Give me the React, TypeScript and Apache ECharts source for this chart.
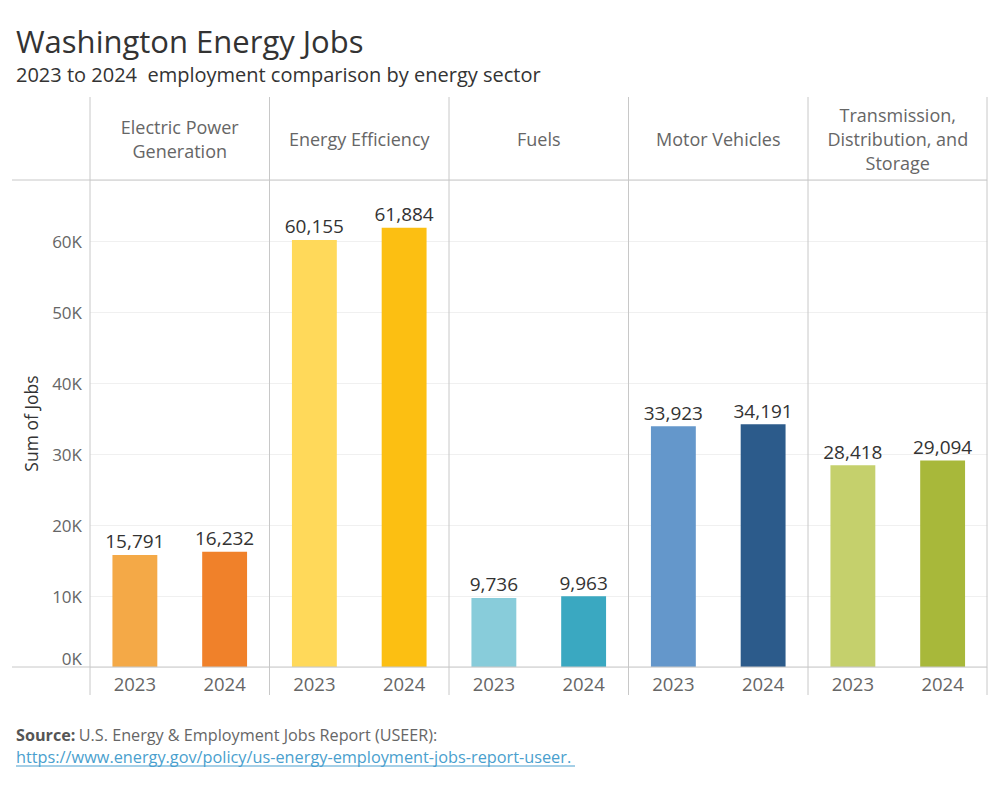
import React, { useEffect, useRef } from "react";
import * as echarts from "echarts";

const sectors = [
  "Electric Power\nGeneration",
  "Energy Efficiency",
  "Fuels",
  "Motor Vehicles",
  "Transmission,\nDistribution, and\nStorage",
];
const years = ["2023", "2024"];
const jobs2023 = [15791, 60155, 9736, 33923, 28418];
const jobs2024 = [16232, 61884, 9963, 34191, 29094];
const yTicks = [0, 10000, 20000, 30000, 40000, 50000, 60000];

const colors2023 = ["#F4A947", "#FFD95A", "#88CCDA", "#6497CB", "#C5D06C"];
const colors2024 = ["#F0812A", "#FCBF12", "#3AA8C1", "#2C5B8B", "#A8B83A"];

const FONT = "'Open Sans', sans-serif";
const LINE = "#c8c8c8";

export default function App() {
  const ref = useRef<HTMLDivElement>(null);
  useEffect(() => {
    if (!ref.current) return;
    const chart = echarts.init(ref.current, null, { renderer: "svg" });
    const panelLefts = [90, 269.5, 449, 628.5, 808];
    const panelW = 179.5;
    const top = 180;
    const bottom = 667;

    const grids = panelLefts.map((l) => ({
      left: l,
      width: panelW,
      top,
      height: bottom - top,
      containLabel: false,
    }));
    const xAxes = panelLefts.map((_, i) => ({
      type: "category",
      gridIndex: i,
      data: years,
      axisLine: { show: false },
      axisTick: { show: false },
      axisLabel: { color: "#666", fontSize: 18.5, fontFamily: FONT, margin: 7 },
    }));
    const yAxes = panelLefts.map((_, i) => ({
      type: "value",
      gridIndex: i,
      min: 0,
      max: 68600,
      interval: 10000,
      name: i === 0 ? "Sum of Jobs" : "",
      nameLocation: "middle",
      nameGap: 50,
      nameTextStyle: { color: "#333", fontSize: 17.5, fontFamily: FONT },
      axisLine: { show: false },
      axisTick: { show: false },
      splitLine: { show: true, lineStyle: { color: "#f0f0f0", width: 1 } },
      axisLabel: {
        show: i === 0,
        color: "#666",
        fontSize: 17,
        fontFamily: FONT,
        margin: 8,
        verticalAlignMinLabel: "bottom",
        customValues: yTicks,
        formatter: (v: number) => `${Math.round(v / 1000)}K`,
      },
    }));
    const series = panelLefts.map((_, i) => ({
      type: "bar",
      xAxisIndex: i,
      yAxisIndex: i,
      barWidth: "50%",
      data: [
        { value: jobs2023[i], itemStyle: { color: colors2023[i] } },
        { value: jobs2024[i], itemStyle: { color: colors2024[i] } },
      ],
      label: {
        show: true,
        position: "top",
        distance: 4,
        color: "#333",
        fontSize: 19,
        fontFamily: FONT,
        formatter: (p: any) => Number(p.value).toLocaleString("en-US"),
      },
    }));

    const vLines = [90, 269.5, 449, 628.5, 808, 987].map((x) => ({
      type: "line",
      shape: { x1: x, y1: 97, x2: x, y2: 695 },
      style: { stroke: LINE, lineWidth: 1 },
      z: 10,
    }));
    const hLines = [180, 667].map((y) => ({
      type: "line",
      shape: { x1: 12, y1: y, x2: 987, y2: y },
      style: { stroke: LINE, lineWidth: 1 },
      z: 10,
    }));
    const headers = sectors.map((s, i) => ({
      type: "text",
      x: panelLefts[i] + panelW / 2,
      y: 139,
      style: {
        text: s,
        fill: "#666",
        fontSize: 18,
        fontFamily: FONT,
        align: "center",
        verticalAlign: "middle",
        lineHeight: 24,
      },
    }));

    chart.setOption({
      animation: false,
      backgroundColor: "#fff",
      grid: grids,
      xAxis: xAxes,
      yAxis: yAxes,
      series,
      graphic: [
        ...vLines,
        ...hLines,
        ...headers,
        {
          type: "text",
          x: 16,
          y: 41,
          style: {
            text: "Washington Energy Jobs",
            fill: "#333",
            fontSize: 31,
            fontFamily: FONT,
            verticalAlign: "middle",
          },
        },
        {
          type: "text",
          x: 16,
          y: 74,
          style: {
            text: "2023 to 2024  employment comparison by energy sector",
            fill: "#333",
            fontSize: 20,
            fontFamily: FONT,
            verticalAlign: "middle",
          },
        },
        {
          type: "text",
          x: 16,
          y: 735,
          style: {
            text: "{b|Source:} {n|U.S. Energy & Employment Jobs Report (USEER):}",
            verticalAlign: "middle",
            rich: {
              b: { fontSize: 16.2, fontFamily: FONT, fontWeight: "bold", fill: "#555" },
              n: { fontSize: 16.2, fontFamily: FONT, fill: "#666" },
            },
          },
        },
        {
          type: "text",
          x: 16,
          y: 757,
          style: {
            text: "https://www.energy.gov/policy/us-energy-employment-jobs-report-useer.",
            fill: "#4a9fce",
            fontSize: 16.3,
            fontFamily: FONT,
            verticalAlign: "middle",
          },
        },
        {
          type: "line",
          shape: { x1: 16, y1: 766, x2: 575, y2: 766 },
          style: { stroke: "#4a9fce", lineWidth: 1 },
        },
      ],
    });
    return () => chart.dispose();
  }, []);
  return <div ref={ref} style={{ width: 1000, height: 800, margin: -8 }} />;
}
